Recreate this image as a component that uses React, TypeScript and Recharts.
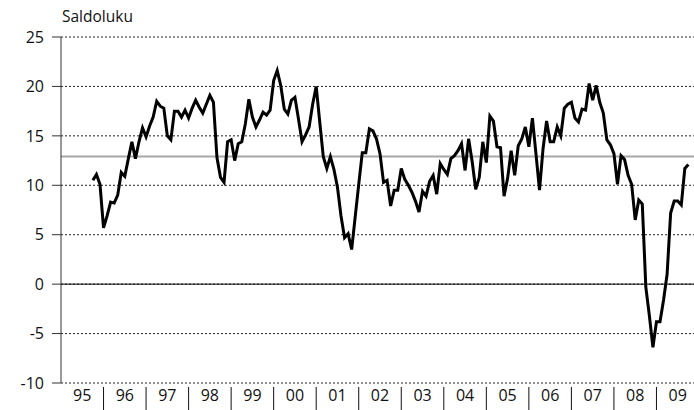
import {
  CartesianGrid,
  Line,
  LineChart,
  ReferenceLine,
  XAxis,
  YAxis,
} from 'recharts';

// monthly balance figures, 1995 starts in October
const FIRST_YEAR = 1995;
const FIRST_MONTH = 9;

const y1995 = [10.5, 11.1, 10.1];
const y1996 = [5.7, 6.9, 8.3, 8.2, 9.0, 11.3, 10.9, 12.7, 14.4, 12.7, 14.4, 15.8];
const y1997 = [14.9, 16.0, 16.9, 18.5, 18.0, 17.8, 15.0, 14.6, 17.5, 17.5, 16.9, 17.6];
const y1998 = [16.8, 17.8, 18.6, 17.9, 17.3, 18.2, 19.1, 18.4, 12.8, 10.8, 10.3, 14.4];
const y1999 = [14.6, 12.5, 14.2, 14.4, 16.2, 18.7, 16.9, 15.9, 16.6, 17.4, 17.1, 17.6];
const y2000 = [20.6, 21.6, 20.1, 17.7, 17.2, 18.6, 18.9, 16.7, 14.4, 15.1, 15.9, 18.2];
const y2001 = [20.0, 16.4, 12.9, 11.7, 12.9, 11.6, 9.8, 6.9, 4.7, 5.1, 3.5, 6.8];
const y2002 = [10.1, 13.3, 13.3, 15.7, 15.5, 14.7, 13.2, 10.3, 10.5, 7.9, 9.5, 9.5];
const y2003 = [11.7, 10.6, 10.0, 9.3, 8.4, 7.3, 9.4, 8.9, 10.4, 11.0, 9.1, 12.2];
const y2004 = [11.6, 11.1, 12.7, 13.0, 13.5, 14.2, 11.5, 14.7, 12.4, 9.6, 10.8, 14.4];
const y2005 = [12.3, 17.0, 16.5, 13.9, 13.8, 8.9, 10.7, 13.5, 11.0, 14.0, 14.7, 15.9];
const y2006 = [13.9, 16.8, 13.2, 9.5, 13.7, 16.5, 14.4, 14.4, 15.9, 15.0, 17.8, 18.2];
const y2007 = [18.4, 16.8, 16.4, 17.7, 17.6, 20.3, 18.6, 20.1, 18.4, 17.3, 14.6, 14.1];
const y2008 = [13.2, 10.1, 13.0, 12.6, 11.0, 10.1, 6.5, 8.5, 8.1, -0.3, -3.2, -6.4];
const y2009 = [-3.8, -3.8, -1.6, 1.0, 7.2, 8.4, 8.4, 8.0, 11.7, 12.1];

const AVERAGE = 12.9;

const yTicks = [-10, -5, 0, 5, 10, 15, 20, 25];
const yearLabels = ['95', '96', '97', '98', '99', '00', '01', '02', '03', '04', '05', '06', '07', '08', '09'];

const allValues = [
  ...y1995, ...y1996, ...y1997, ...y1998, ...y1999, ...y2000, ...y2001, ...y2002,
  ...y2003, ...y2004, ...y2005, ...y2006, ...y2007, ...y2008, ...y2009,
];

const data = allValues.map((v, i) => ({
  t: FIRST_YEAR + (FIRST_MONTH + i) / 12,
  v,
}));

const labelTicks = yearLabels.map((_, i) => FIRST_YEAR + i + 0.5);
const yearBreaks = yearLabels.slice(1).map((_, i) => FIRST_YEAR + i + 1);

const font = '"Open Sans", sans-serif';

export default function App() {
  return (
    <div
      style={{
        position: 'absolute',
        left: 0,
        top: 0,
        width: 694,
        height: 410,
        overflow: 'hidden',
        background: '#fff',
        fontFamily: font,
      }}
    >
      <div
        style={{
          position: 'absolute',
          left: 62,
          top: 5,
          fontSize: 15.5,
          color: '#111',
        }}
      >
        Saldoluku
      </div>
      <LineChart
        width={700}
        height={410}
        data={data}
        margin={{ top: 37, right: 1, left: 0, bottom: 0 }}
      >
        <CartesianGrid
          vertical={false}
          strokeDasharray="2 2"
          stroke="#222"
        />

        <XAxis
          dataKey="t"
          type="number"
          domain={[1995, 2010]}
          ticks={labelTicks}
          interval={0}
          height={27}
          tickLine={false}
          axisLine={false}
          tickSize={0}
          tickMargin={7}
          tickFormatter={(value) => yearLabels[Math.floor(Number(value)) - FIRST_YEAR]}
          tick={{ fill: '#111', fontSize: 16, fontFamily: font }}
        />

        <YAxis
          type="number"
          domain={[-10, 25]}
          ticks={yTicks}
          interval={0}
          width={61}
          tickSize={9}
          tickMargin={8}
          axisLine={{ stroke: '#333' }}
          tickLine={{ stroke: '#333' }}
          tick={{ fill: '#111', fontSize: 16, fontFamily: font }}
        />

        <ReferenceLine y={0} stroke="#000" strokeWidth={1} />
        <ReferenceLine y={AVERAGE} stroke="#a8a8a8" strokeWidth={2} />

        {yearBreaks.map((year) => (
          <ReferenceLine
            key={year}
            segment={[
              { x: year, y: -10.4 },
              { x: year, y: -13 },
            ]}
            stroke="#111"
            strokeWidth={1}
            ifOverflow="visible"
          />
        ))}

        <Line
          type="linear"
          dataKey="v"
          stroke="#000"
          strokeWidth={3}
          dot={false}
          activeDot={false}
          isAnimationActive={false}
        />
      </LineChart>
    </div>
  );
}
